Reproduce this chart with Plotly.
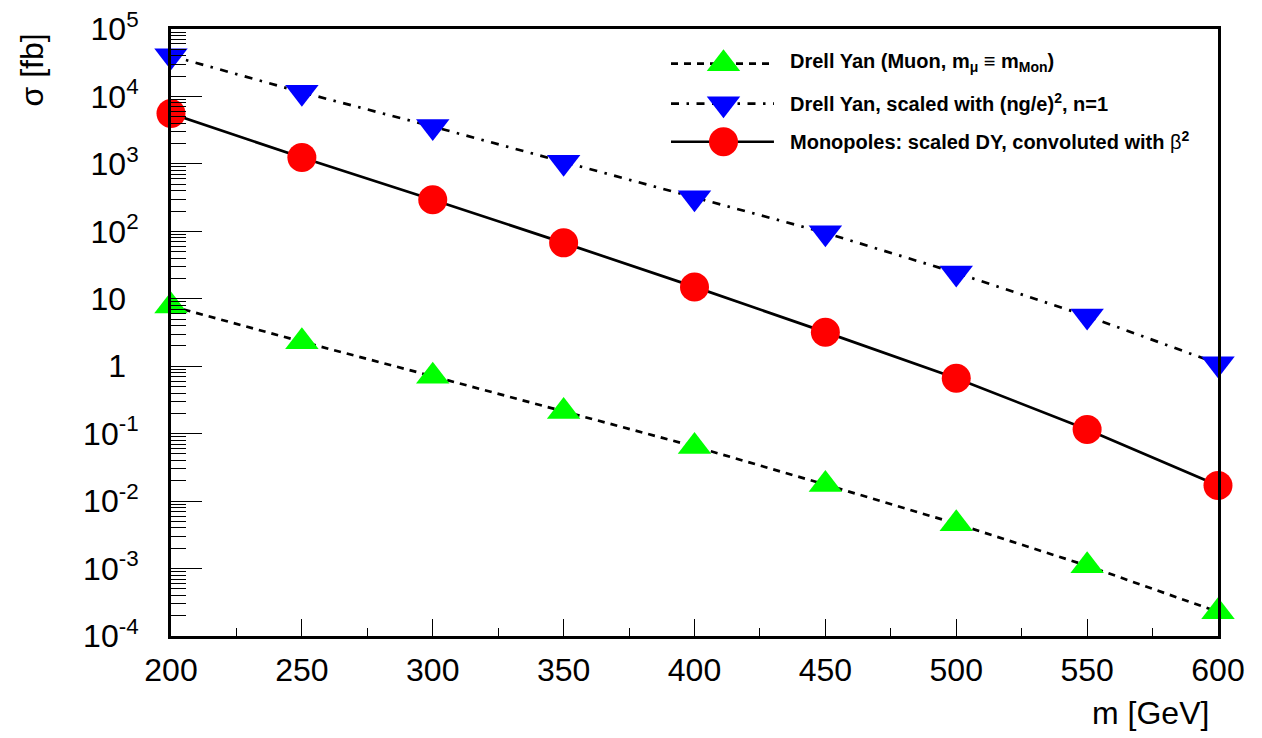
import plotly.graph_objects as go

# ---- data ----
mass = [200, 250, 300, 350, 400, 450, 500, 550, 600]
dy_muon = [7.8, 2.31, 0.71, 0.214, 0.0646, 0.0176, 0.00463, 0.0011, 0.000228]
dy_scaled = [40000, 11500, 3580, 1062, 315, 95, 24.2, 5.54, 1.09]
monopoles = [5590, 1240, 294, 67.5, 15.0, 3.2, 0.664, 0.1156, 0.0170]

y_tickvals = [1e-4, 1e-3, 1e-2, 1e-1, 1, 10, 1e2, 1e3, 1e4, 1e5]
y_ticktext = ["10<sup>-4</sup>", "10<sup>-3</sup>", "10<sup>-2</sup>", "10<sup>-1</sup>",
              "1<sup>&nbsp;&nbsp;</sup>", "10<sup>&nbsp;&nbsp;</sup>",
              "10<sup>2</sup>", "10<sup>3</sup>", "10<sup>4</sup>", "10<sup>5</sup>"]
x_tickvals = [200, 250, 300, 350, 400, 450, 500, 550, 600]

legend_labels = [
    "<b>Drell Yan (Muon, m<sub>μ</sub> ≡ m<sub>Mon</sub>)</b>",
    "<b>Drell Yan, scaled with (ng/e)<sup>2</sup>, n=1</b>",
    "<b>Monopoles: scaled DY, convoluted with </b>β<b><sup>2</sup></b>",
]

FONT = "Liberation Sans, Arial, Helvetica, sans-serif"
LW = 2.7
green_style = dict(line=dict(color="black", width=LW, dash="7px,6px"),
                   marker=dict(symbol="triangle-up", size=29, color="#00ff00"))
blue_style = dict(line=dict(color="black", width=LW, dash="8px,7.5px,2.5px,7.5px"),
                  marker=dict(symbol="triangle-down", size=29, color="#0000ff"))
red_style = dict(line=dict(color="black", width=LW),
                 marker=dict(symbol="circle", size=29, color="#ff0000"))

fig = go.Figure()
fig.add_trace(go.Scatter(x=mass, y=dy_muon, mode="lines+markers", cliponaxis=False, **green_style))
fig.add_trace(go.Scatter(x=mass, y=dy_scaled, mode="lines+markers", cliponaxis=False, **blue_style))
fig.add_trace(go.Scatter(x=mass, y=monopoles, mode="lines+markers", cliponaxis=False, **red_style))

# ---- custom legend drawn on a pixel-like overlay axis ----
leg_rows = [64, 104, 142]
styles = [green_style, blue_style, red_style]
for yy, st in zip(leg_rows, styles):
    fig.add_trace(go.Scatter(x=[671, 774], y=[yy, yy], mode="lines", line=st["line"],
                             xaxis="x2", yaxis="y2", hoverinfo="skip"))
    fig.add_trace(go.Scatter(x=[723.5], y=[yy], mode="markers", marker=st["marker"],
                             xaxis="x2", yaxis="y2", hoverinfo="skip"))

L, R, T, B = 171, 44, 29, 102
PW, PH = 1262 - L - R, 738 - T - B


def px(xp):
    return (xp - L) / PW


def py(yp):
    return (738 - B - yp) / PH


annotations = []
for yy, txt in zip(leg_rows, legend_labels):
    annotations.append(dict(x=788, y=yy - 1, xref="x2", yref="y2", text=txt, showarrow=False,
                            xanchor="left", yanchor="middle",
                            font=dict(family=FONT, size=20, color="black")))
annotations.append(dict(x=px(31), y=py(32), xref="paper", yref="paper", text="σ [fb]",
                        showarrow=False, textangle=-90, xanchor="center", yanchor="top",
                        font=dict(family=FONT, size=32, color="black")))
annotations.append(dict(x=px(1211), y=py(713), xref="paper", yref="paper", text="m [GeV]",
                        showarrow=False, xanchor="right", yanchor="middle",
                        font=dict(family=FONT, size=32, color="black")))

fig.update_layout(
    width=1262, height=738,
    margin=dict(l=L, r=R, t=T, b=B, autoexpand=False),
    paper_bgcolor="white", plot_bgcolor="white",
    showlegend=False,
    font=dict(family=FONT, size=32, color="black"),
    annotations=annotations,
    xaxis=dict(range=[200, 600], tickvals=x_tickvals, ticks="inside", ticklen=17,
               tickwidth=1, tickcolor="black", showline=True, linewidth=3, linecolor="black",
               mirror=True, showgrid=False, zeroline=False, ticklabelstandoff=4,
               tickfont=dict(family=FONT, size=32, color="black"),
               minor=dict(dtick=25, ticks="inside", ticklen=8, tickwidth=1, tickcolor="black",
                          showgrid=False)),
    yaxis=dict(type="log", range=[-4, 5], tickvals=y_tickvals, ticktext=y_ticktext,
               ticks="inside", ticklen=31, tickwidth=1, tickcolor="black",
               showline=True, linewidth=3, linecolor="black", mirror=True,
               showgrid=False, zeroline=False, ticklabelstandoff=23,
               tickfont=dict(family=FONT, size=32, color="black"),
               minor=dict(dtick="D1", ticks="inside", ticklen=15, tickwidth=1,
                          tickcolor="black", showgrid=False)),
    xaxis2=dict(overlaying="x", range=[170.7, 1218.3], visible=False, fixedrange=True),
    yaxis2=dict(overlaying="y", range=[635.6, 29.4], visible=False, fixedrange=True),
)

fig.write_html("out.html", config={"displayModeBar": False},
               post_script="document.body.style.margin='0';")
